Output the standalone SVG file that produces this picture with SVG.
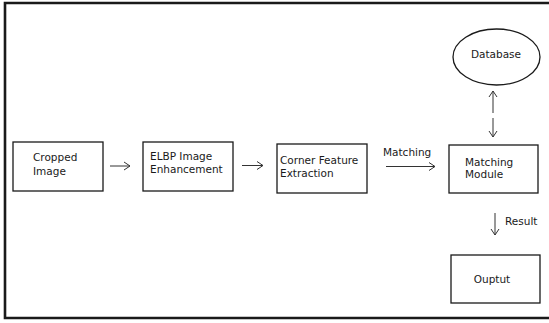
<svg xmlns="http://www.w3.org/2000/svg" width="549" height="323" viewBox="0 0 549 323">
<defs>
<style>
.box{fill:#fff;stroke:#1a1a1a;stroke-width:1.3}
.t{font-family:"DejaVu Sans",sans-serif;font-size:10.5px;fill:#1a1a1a}
.c{stroke:#333;stroke-width:1;fill:none}
</style>
<marker id="ah" markerWidth="10" markerHeight="10" refX="7" refY="5" orient="auto" markerUnits="userSpaceOnUse">
<path d="M1,1 L7,5 L1,9" fill="none" stroke="#333" stroke-width="1"/>
</marker>
</defs>
<rect width="549" height="323" fill="#fff"/>
<path d="M549,3 H5 V318 H549" fill="none" stroke="#1a1a1a" stroke-width="2.6"/>
<g id="cropped">
<rect class="box" x="13" y="142" width="90" height="49"/>
<text class="t" x="33" y="161">Cropped</text>
<text class="t" x="33" y="174.5">Image</text>
</g>
<g id="elbp">
<rect class="box" x="143" y="142" width="90" height="49"/>
<text class="t" x="150" y="159.5">ELBP Image</text>
<text class="t" x="150" y="172.5">Enhancement</text>
</g>
<g id="corner">
<rect class="box" x="277" y="144" width="90" height="49"/>
<text class="t" x="280" y="164">Corner Feature</text>
<text class="t" x="280" y="177">Extraction</text>
</g>
<g id="matching">
<rect class="box" x="449" y="145" width="89" height="48"/>
<text class="t" x="465" y="165.5">Matching</text>
<text class="t" x="465" y="178">Module</text>
</g>
<g id="database">
<ellipse class="box" cx="496.5" cy="57" rx="43.5" ry="28"/>
<text class="t" x="496" y="58" text-anchor="middle">Database</text>
</g>
<g id="output">
<rect class="box" x="451" y="255" width="89" height="48"/>
<text class="t" x="492" y="283" text-anchor="middle">Ouptut</text>
</g>
<g id="connectors">
<line class="c" x1="110" y1="166" x2="130" y2="166" marker-end="url(#ah)"/>
<line class="c" x1="242" y1="165.5" x2="263" y2="165.5" marker-end="url(#ah)"/>
<line class="c" x1="386" y1="166.5" x2="435" y2="166.5" marker-end="url(#ah)"/>
<text class="t" x="383" y="155.5">Matching</text>
<line class="c" x1="493" y1="113" x2="493" y2="91" marker-end="url(#ah)"/>
<line class="c" x1="493" y1="118" x2="493" y2="137" marker-end="url(#ah)"/>
<line class="c" x1="495" y1="213" x2="495" y2="235" marker-end="url(#ah)"/>
<text class="t" x="505" y="225">Result</text>
</g>
</svg>
